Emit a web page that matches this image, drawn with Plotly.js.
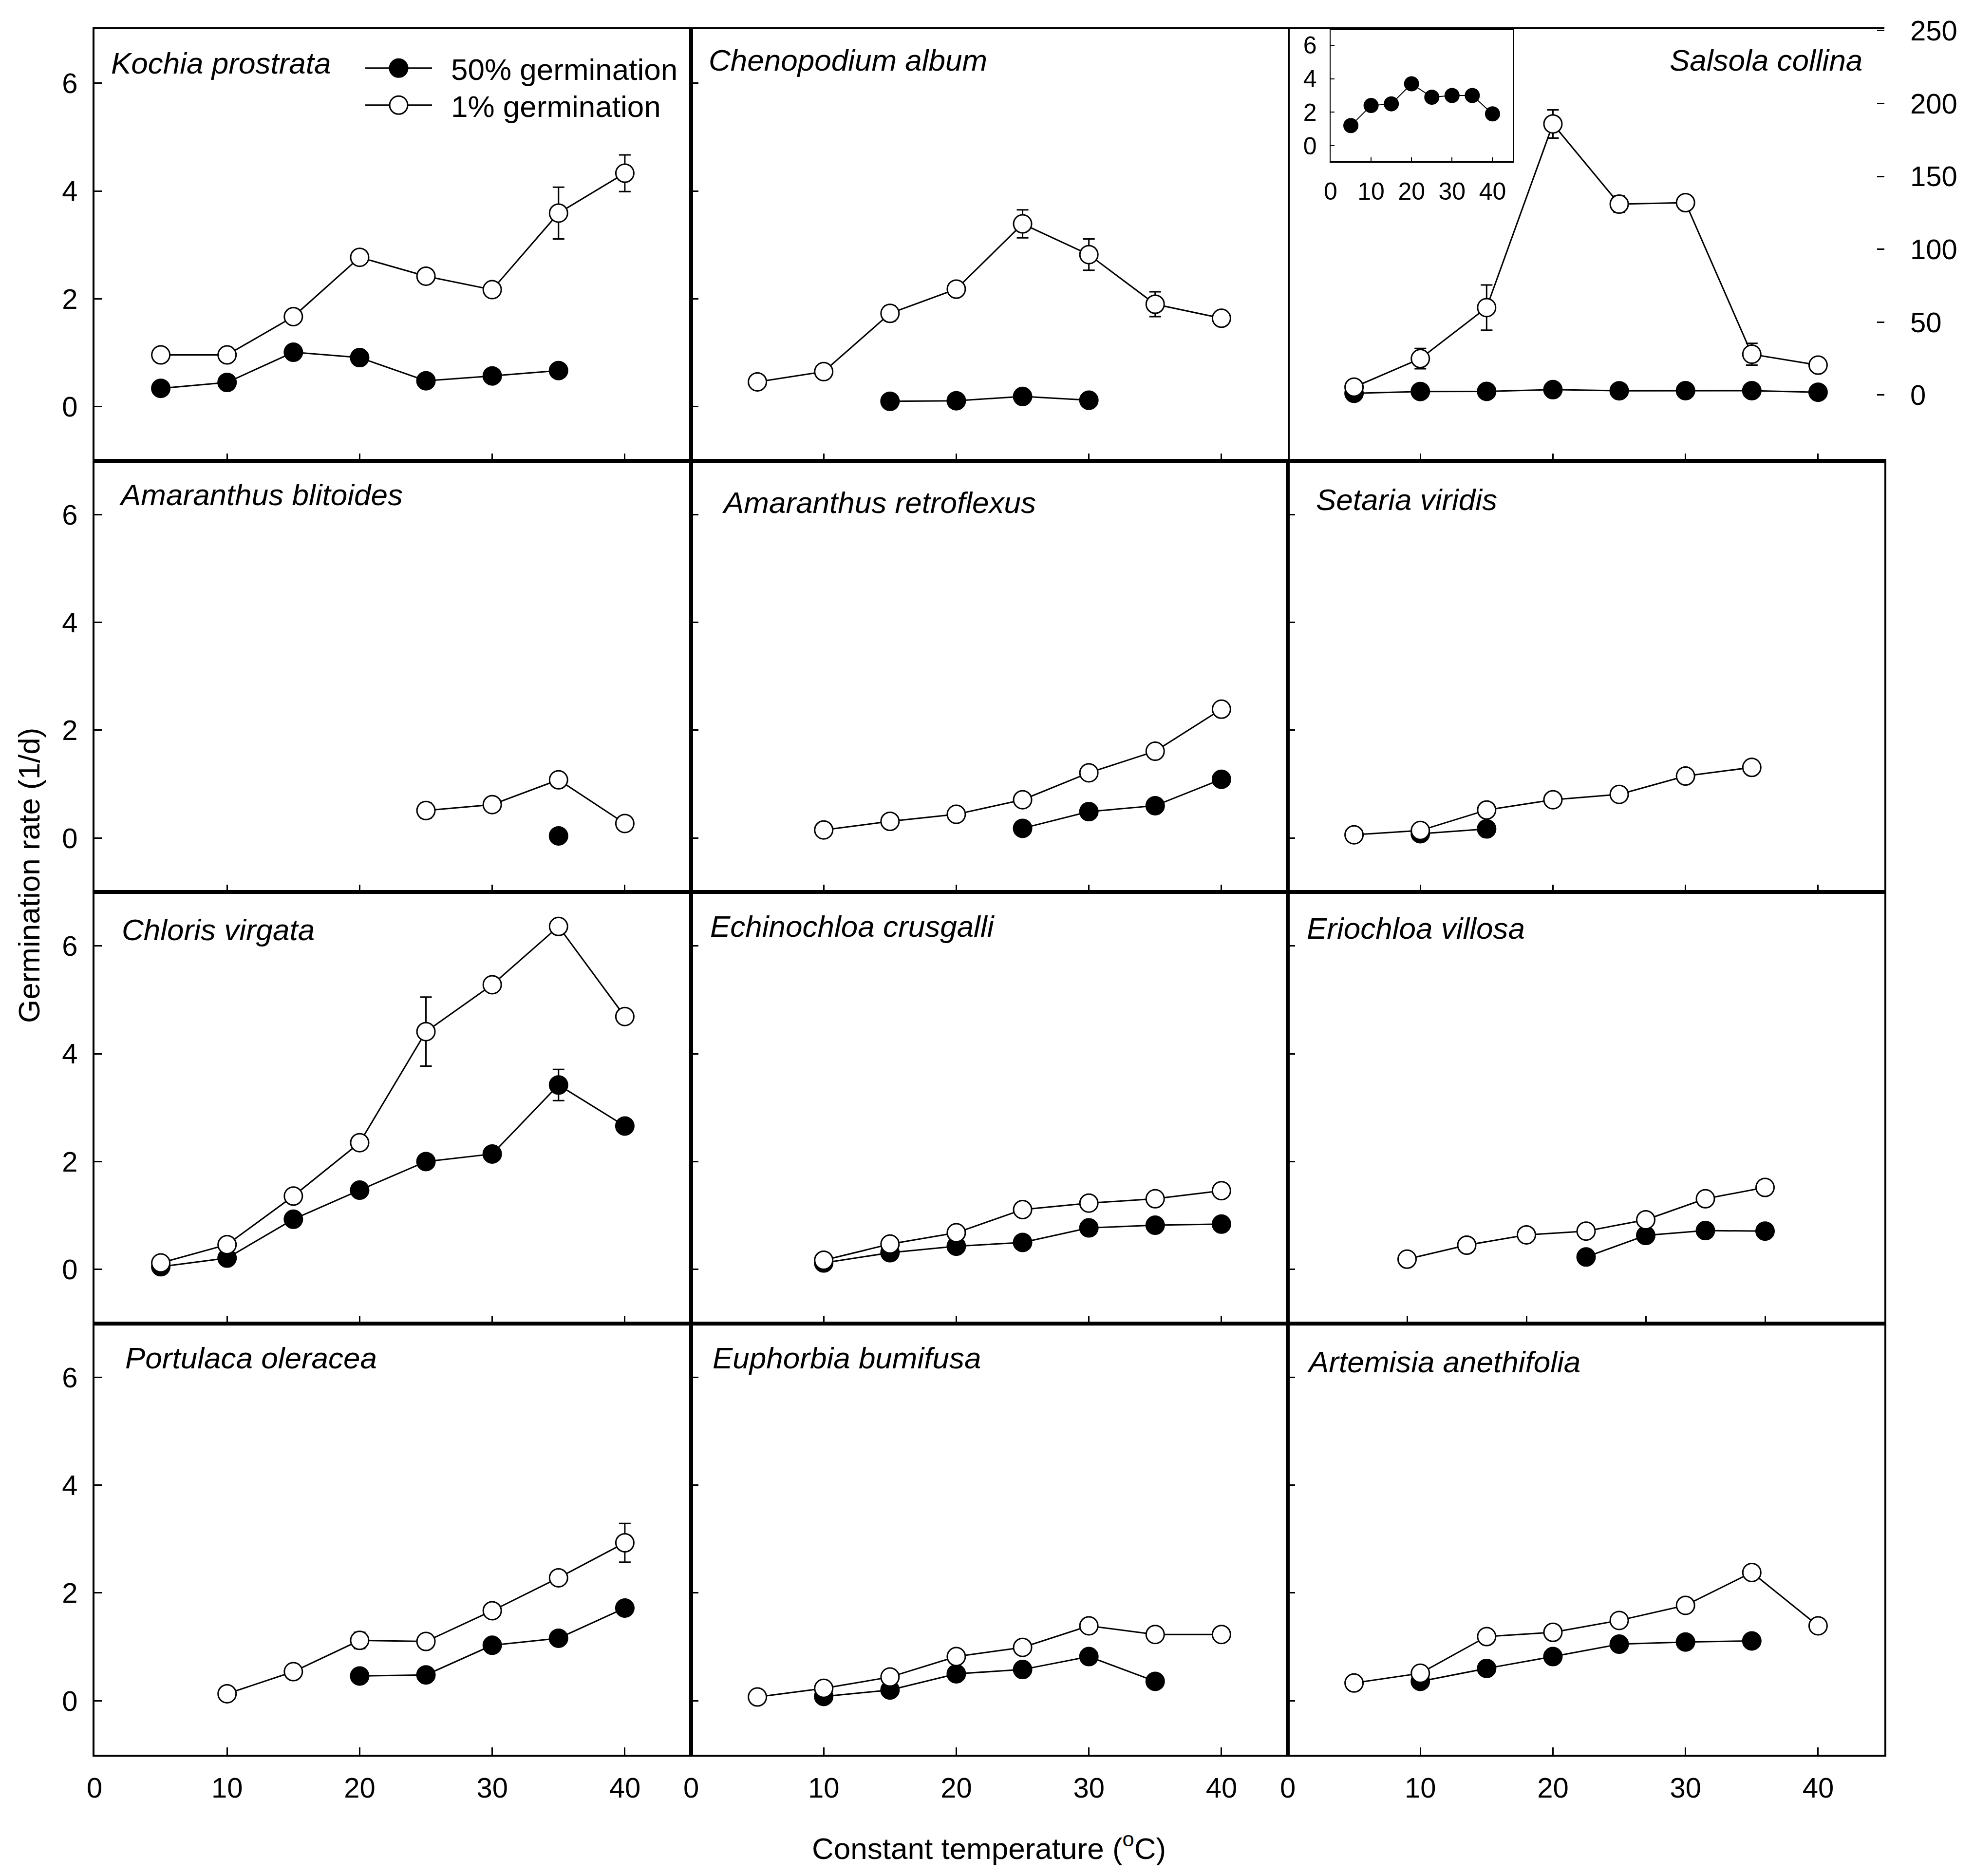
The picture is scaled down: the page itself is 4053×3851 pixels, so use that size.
<!DOCTYPE html>
<html><head><meta charset="utf-8">
<script src="https://cdn.plot.ly/plotly-3.0.1.min.js"></script>
<style>html,body{margin:0;padding:0;background:#fff}</style>
</head><body>
<div id="chart" style="width:4053px;height:3851px"></div>
<script>
// ---------------- DATA ----------------
const speciesNames = ['Kochia prostrata','Chenopodium album','Salsola collina',
  'Amaranthus blitoides','Amaranthus retroflexus','Setaria viridis',
  'Chloris virgata','Echinochloa crusgalli','Eriochloa villosa',
  'Portulaca oleracea','Euphorbia bumifusa','Artemisia anethifolia'];
const legendNames = ['50% germination','1% germination'];
const xTickLabels = [0,10,20,30,40];
const yTickLabels = [0,2,4,6];
const rightTickLabels = [0,50,100,150,200,250];

// Kochia prostrata
const kochiaT50 = [5,10,15,20,25,30,35];
const kochiaR50 = [0.34,0.45,1.01,0.91,0.48,0.57,0.67];
const kochiaT1  = [5,10,15,20,25,30,35,40];
const kochiaR1  = [0.96,0.96,1.67,2.77,2.42,2.17,3.59,4.33];
const kochiaE1  = [0,0,0,0,0,0,0.48,0.34];
// Chenopodium album
const chenoT50 = [15,20,25,30];
const chenoR50 = [0.10,0.11,0.19,0.12];
const chenoT1  = [5,10,15,20,25,30,35,40];
const chenoR1  = [0.46,0.65,1.73,2.18,3.39,2.82,1.90,1.64];
const chenoE1  = [0,0,0.14,0,0.26,0.29,0.23,0];
// Salsola collina (main panel on right axis; inset shows the 50% series)
const salsolaT50 = [5,10,15,20,25,30,35,40];
const salsolaR50 = [1.2,2.4,2.5,3.7,2.9,3.0,3.0,1.9];
const salsolaT1  = [5,10,15,20,25,30,35,40];
const salsolaR1  = [5.4,25,60,186,131,132,28,20.5];
const salsolaE1  = [0,7,15.5,9.7,5.5,0,7.5,0];
// Amaranthus blitoides
const blitT50 = [35];
const blitR50 = [0.04];
const blitT1  = [25,30,35,40];
const blitR1  = [0.51,0.62,1.08,0.27];
const blitE1  = [0.14,0,0,0];
// Amaranthus retroflexus
const retroT50 = [25,30,35,40];
const retroR50 = [0.18,0.49,0.60,1.09];
const retroT1  = [10,15,20,25,30,35,40];
const retroR1  = [0.15,0.31,0.44,0.71,1.21,1.61,2.39];
// Setaria viridis
const setariaT50 = [10,15];
const setariaR50 = [0.08,0.17];
const setariaT1  = [5,10,15,20,25,30,35];
const setariaR1  = [0.06,0.14,0.52,0.71,0.81,1.15,1.31];
// Chloris virgata
const chlorisT50 = [5,10,15,20,25,30,35,40];
const chlorisR50 = [0.05,0.21,0.93,1.47,2.00,2.14,3.42,2.66];
const chlorisE50 = [0,0,0,0,0,0,0.29,0];
const chlorisT1  = [5,10,15,20,25,30,35,40];
const chlorisR1  = [0.12,0.46,1.36,2.35,4.41,5.28,6.36,4.69];
const chlorisE1  = [0,0,0,0,0.64,0,0,0];
// Echinochloa crusgalli
const echinoT50 = [10,15,20,25,30,35,40];
const echinoR50 = [0.12,0.31,0.43,0.50,0.77,0.82,0.84];
const echinoT1  = [10,15,20,25,30,35,40];
const echinoR1  = [0.17,0.47,0.68,1.11,1.23,1.31,1.46];
// Eriochloa villosa (its panel's x axis runs 0-50)
const erioT50 = [25,30,35,40];
const erioR50 = [0.23,0.63,0.72,0.71];
const erioT1  = [10,15,20,25,30,35,40];
const erioR1  = [0.19,0.45,0.64,0.71,0.92,1.31,1.52];
// Portulaca oleracea
const portT50 = [20,25,30,35,40];
const portR50 = [0.46,0.48,1.03,1.16,1.72];
const portT1  = [10,15,20,25,30,35,40];
const portR1  = [0.13,0.54,1.12,1.10,1.67,2.28,2.93];
const portE1  = [0,0,0.15,0,0,0,0.36];
// Euphorbia bumifusa
const euphT50 = [10,15,20,25,30,35];
const euphR50 = [0.08,0.20,0.50,0.58,0.82,0.36];
const euphT1  = [5,10,15,20,25,30,35,40];
const euphR1  = [0.07,0.23,0.44,0.82,0.99,1.39,1.23,1.23];
// Artemisia anethifolia
const artT50 = [10,15,20,25,30,35];
const artR50 = [0.36,0.60,0.82,1.05,1.09,1.11];
const artT1  = [5,10,15,20,25,30,35,40];
const artR1  = [0.33,0.51,1.19,1.27,1.49,1.77,2.38,1.39];

const panels = [
  {x50:kochiaT50, y50:kochiaR50, e50:null, x1:kochiaT1, y1:kochiaR1, e1:kochiaE1},
  {x50:chenoT50, y50:chenoR50, e50:null, x1:chenoT1, y1:chenoR1, e1:chenoE1},
  {x50:salsolaT50, y50:salsolaR50, e50:null, x1:salsolaT1, y1:salsolaR1, e1:salsolaE1, right:true},
  {x50:blitT50, y50:blitR50, e50:null, x1:blitT1, y1:blitR1, e1:blitE1},
  {x50:retroT50, y50:retroR50, e50:null, x1:retroT1, y1:retroR1, e1:null},
  {x50:setariaT50, y50:setariaR50, e50:null, x1:setariaT1, y1:setariaR1, e1:null},
  {x50:chlorisT50, y50:chlorisR50, e50:chlorisE50, x1:chlorisT1, y1:chlorisR1, e1:chlorisE1},
  {x50:echinoT50, y50:echinoR50, e50:null, x1:echinoT1, y1:echinoR1, e1:null},
  {x50:erioT50, y50:erioR50, e50:null, x1:erioT1, y1:erioR1, e1:null, xmax:50},
  {x50:portT50, y50:portR50, e50:null, x1:portT1, y1:portR1, e1:portE1},
  {x50:euphT50, y50:euphR50, e50:null, x1:euphT1, y1:euphR1, e1:null},
  {x50:artT50, y50:artR50, e50:null, x1:artT1, y1:artR1, e1:null}
];

// ---------------- LAYOUT ----------------
const FONT = 'Liberation Sans, Arial, Helvetica, sans-serif';
const W = 4053, H = 3851;
const colPx = [194, 1419, 2644, 3869];
const rowPx = [60, 945.5, 1831, 2716.5, 3602];
const px = v => v / W;
const py = v => 1 - v / H;
// species label anchor positions (px) and alignment
const labelPos = [[226,130,'left'],[1453,123,'left'],[3826,123,'right'],
  [242,1015,'left'],[1480,1031,'left'],[2700,1025,'left'],
  [248,1908,'left'],[1456,1901,'left'],[2681,1905,'left'],
  [255,2787,'left'],[1461,2787,'left'],[2681,2795,'left']];

const axBase = {showline:true, mirror:true, linecolor:'black', linewidth:4,
  ticks:'inside', ticklen:15, tickwidth:3, tickcolor:'black',
  showgrid:false, zeroline:false, fixedrange:true,
  tickfont:{family:FONT, size:58, color:'black'}};

const layout = {
  width:W, height:H, margin:{l:0,r:0,t:0,b:0},
  paper_bgcolor:'white', plot_bgcolor:'white',
  font:{family:FONT, color:'black'},
  showlegend:true,
  legend:{x:px(745), y:py(93), xanchor:'left', yanchor:'top',
    font:{family:FONT, size:62, color:'black'}, itemwidth:137,
    bgcolor:'rgba(0,0,0,0)', borderwidth:0, tracegroupgap:0, traceorder:'normal'},
  annotations:[]
};

function series(x, y, err, xr, yr, filled, name, size, lw) {
  const t = {type:'scatter', mode:'lines+markers', x:x, y:y, xaxis:xr, yaxis:yr,
    line:{color:'black', width:lw},
    marker:{symbol:'circle', size:size, color: filled ? 'black' : 'white',
      line:{color:'black', width:lw}},
    name: name || '', showlegend: !!name, cliponaxis:false, hoverinfo:'skip'};
  if (err) t.error_y = {type:'data', array:err, visible:true, color:'black', thickness:3, width:12};
  return t;
}

const traces = [];
panels.forEach((p, i) => {
  const n = i + 1, r = Math.floor(i / 3), c = i % 3;
  const sfx = n === 1 ? '' : String(n);
  layout['xaxis' + sfx] = Object.assign({}, axBase, {
    domain:[px(colPx[c]), px(colPx[c + 1])], anchor:'y' + sfx,
    range:[0, p.xmax || 45],
    tickvals: r === 3 ? xTickLabels : xTickLabels.slice(1),
    showticklabels: r === 3, ticklabelstandoff: 14
  });
  layout['yaxis' + sfx] = Object.assign({}, axBase, {
    domain:[py(rowPx[r + 1]), py(rowPx[r])], anchor:'x' + sfx,
    range:[-1, 7], tickvals:yTickLabels,
    showticklabels: c === 0, ticklabelstandoff: 19
  });
  const xr = 'x' + sfx;
  const yr = p.right ? 'y13' : 'y' + sfx;
  traces.push(series(p.x50, p.y50, p.e50, xr, yr, true, i === 0 ? legendNames[0] : null, 37, 3));
  traces.push(series(p.x1, p.y1, p.e1, xr, yr, false, i === 0 ? legendNames[1] : null, 37, 3));
  const lp = labelPos[i];
  layout.annotations.push({xref:'paper', yref:'paper', x:px(lp[0]), y:py(lp[1]),
    xanchor:lp[2], yanchor:'middle', showarrow:false,
    text:'<i>' + speciesNames[i] + '</i>', font:{family:FONT, size:62, color:'black'}});
});

// Salsola right axis
layout.yaxis13 = Object.assign({}, axBase, {
  overlaying:'y3', side:'right', anchor:'x3', showline:false, mirror:false,
  domain:[py(rowPx[1]), py(rowPx[0])],
  range:[-45, 251], tickvals:rightTickLabels, showticklabels:true, ticklabelstandoff:52
});

// Salsola inset
layout.xaxis14 = Object.assign({}, axBase, {
  domain:[px(2732), px(3106)], anchor:'y14', range:[0, 45],
  tickvals:xTickLabels, linewidth:2.5, ticklen:8, tickwidth:2,
  tickfont:{family:FONT, size:50, color:'black'}, ticklabelstandoff:16
});
layout.yaxis14 = Object.assign({}, axBase, {
  domain:[py(331), py(62)], anchor:'x14', range:[-0.93, 6.9],
  tickvals:yTickLabels, linewidth:2.5, ticklen:8, tickwidth:2,
  tickfont:{family:FONT, size:50, color:'black'}, ticklabelstandoff:16
});
traces.push(series(salsolaT50, salsolaR50, null, 'x14', 'y14', true, null, 29, 2));

// axis titles
layout.annotations.push({xref:'paper', yref:'paper', x:px(2031), y:py(3790),
  xanchor:'center', yanchor:'middle', showarrow:false,
  text:'Constant temperature (<sup>o</sup>C)', font:{family:FONT, size:62, color:'black'}});
layout.annotations.push({xref:'paper', yref:'paper', x:px(60), y:py(1797),
  xanchor:'center', yanchor:'middle', showarrow:false, textangle:-90,
  text:'Germination rate (1/d)', font:{family:FONT, size:62, color:'black'}});

Plotly.newPlot('chart', traces, layout, {staticPlot:true}).then(gd => {
  // legend keys drawn at the reference's size and spacing
  gd.querySelectorAll('.legend [clip-path]').forEach(e => e.removeAttribute('clip-path'));
  gd.querySelectorAll('.legend path.scatterpts').forEach(pth => {
    const t = pth.getAttribute('transform') || '';
    pth.setAttribute('transform', t + ' scale(' + (37 / 16) + ')');
    pth.style.vectorEffect = 'non-scaling-stroke';
  });
  gd.querySelectorAll('.legend text.legendtext').forEach(tx => {
    tx.setAttribute('transform', 'translate(34,0)');
  });
  const items = gd.querySelectorAll('.legend g.traces');
  let y0 = null;
  items.forEach((g, k) => {
    const m = /translate\(\s*([-\d.]+)[ ,]+([-\d.]+)\s*\)/.exec(g.getAttribute('transform') || '');
    if (!m) return;
    if (y0 === null) y0 = parseFloat(m[2]);
    g.setAttribute('transform', 'translate(' + m[1] + ',' + (y0 + k * 76) + ')');
  });
});
</script>
</body></html>
